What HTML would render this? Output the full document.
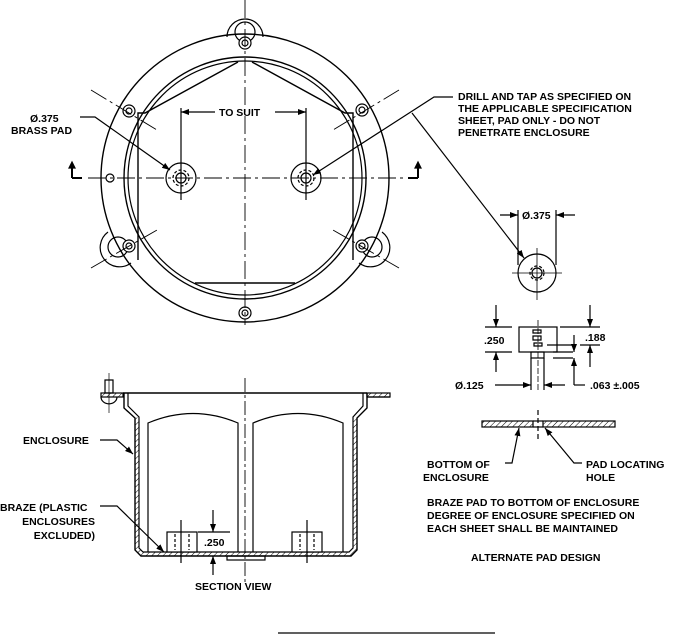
<!DOCTYPE html>
<html><head><meta charset="utf-8"><style>
html,body{margin:0;padding:0;background:#fff;}
svg{display:block;}
text{font-family:"Liberation Sans",Arial,sans-serif;font-weight:bold;font-size:10.5px;fill:#000;}
</style></head><body>
<svg width="677" height="636" viewBox="0 0 677 636" xmlns="http://www.w3.org/2000/svg">
<defs>
<pattern id="h" width="4" height="4" patternUnits="userSpaceOnUse" patternTransform="rotate(45)">
<line x1="0" y1="0" x2="0" y2="4" stroke="#000" stroke-width="1"/>
</pattern>
<marker id="a" markerWidth="8" markerHeight="6" refX="8" refY="3" orient="auto" markerUnits="userSpaceOnUse"><path d="M0,0 L8,3 L0,6z" fill="#000"/></marker>
</defs>
<g fill="none" stroke="#000" stroke-width="1.2">
<!-- top view -->
<path d="M227,37 A18,18 0 1 1 263,37" />
<path d="M108,232 A18,18 0 1 0 131,263" />
<path d="M382,232 A18,18 0 1 1 359,263" />
<circle cx="245" cy="178" r="144" stroke-width="1.4"/>
<circle cx="245" cy="178" r="121" stroke-width="1.4"/>
<circle cx="245" cy="178" r="117"/>
<circle cx="118" cy="247" r="10"/><circle cx="372" cy="247" r="10"/><circle cx="245" cy="32" r="10"/>
<path d="M238,62 L145,113 L138,113 L138,260 M252,62 L345,113 L353,113 L353,260 M195,283 L295,283" stroke-width="1.4"/>
<g fill="#fff">
<circle cx="245" cy="43" r="6"/><circle cx="245" cy="43" r="3"/>
<circle cx="129" cy="111" r="6"/><circle cx="129" cy="111" r="3"/>
<circle cx="362" cy="110" r="6"/><circle cx="362" cy="110" r="3"/>
<circle cx="129" cy="246" r="6"/><circle cx="129" cy="246" r="3"/>
<circle cx="362" cy="246" r="6"/><circle cx="362" cy="246" r="3"/>
<circle cx="245" cy="313" r="6"/><circle cx="245" cy="313" r="3"/>
<circle cx="110" cy="178" r="4"/>
</g>
<circle cx="181" cy="178" r="15"/><circle cx="181" cy="178" r="8" stroke-dasharray="3,2"/><circle cx="181" cy="178" r="5"/>
<circle cx="306" cy="178" r="15"/><circle cx="306" cy="178" r="8" stroke-dasharray="3,2"/><circle cx="306" cy="178" r="5"/>
<g stroke-width="0.9" stroke-dasharray="18,4,3,4">
<line x1="245" y1="0" x2="245" y2="325"/>
<line x1="88" y1="178" x2="405" y2="178"/>
<line x1="91" y1="90" x2="157" y2="130"/><line x1="399" y1="90" x2="333" y2="130"/>
<line x1="91" y1="268" x2="157" y2="230"/><line x1="399" y1="268" x2="333" y2="230"/>
</g>
<line x1="181" y1="108" x2="181" y2="200"/><line x1="306" y1="108" x2="306" y2="200"/>
<line x1="215" y1="112" x2="181" y2="112" marker-end="url(#a)"/>
<line x1="275" y1="112" x2="306" y2="112" marker-end="url(#a)"/>
<path d="M72,178 L82,178 M72,178 L72,165" stroke-width="2"/><path d="M72,162 l-3,6 h6z" fill="#000"/>
<path d="M418,178 L408,178 M418,178 L418,165" stroke-width="2"/><path d="M418,162 l-3,6 h6z" fill="#000"/>
<path d="M80,117 L95,117 L170,170" marker-end="url(#a)"/>
<path d="M453,97 L434,97 L313,175" marker-end="url(#a)"/>
<line x1="412" y1="113" x2="524" y2="258" marker-end="url(#a)"/>
<!-- detail circle -->
<circle cx="537" cy="273" r="19"/><circle cx="537" cy="273" r="7" stroke-dasharray="3,2"/><circle cx="537" cy="273" r="5"/>
<line x1="512" y1="273" x2="562" y2="273" stroke-width="0.8"/><line x1="537" y1="248" x2="537" y2="300" stroke-width="0.8"/>
<line x1="518" y1="210" x2="518" y2="265"/><line x1="556" y1="210" x2="556" y2="265"/>
<line x1="500" y1="215" x2="518" y2="215" marker-end="url(#a)"/><line x1="575" y1="215" x2="556" y2="215" marker-end="url(#a)"/>
<!-- side detail -->
<rect x="519" y="327" width="38" height="25"/><rect x="531" y="352" width="13" height="6"/>
<path d="M533,330h8v3h-8z M533,336h8v4h-8z M534,343h8v3h-8z"/>
<line x1="538" y1="320" x2="538" y2="390" stroke-width="0.8" stroke-dasharray="6,2"/>
<line x1="485" y1="327" x2="512" y2="327"/><line x1="485" y1="352" x2="512" y2="352"/>
<line x1="496" y1="305" x2="496" y2="327" marker-end="url(#a)"/><line x1="496" y1="372" x2="496" y2="352" marker-end="url(#a)"/>
<line x1="560" y1="327" x2="600" y2="327"/><line x1="590" y1="305" x2="590" y2="327" marker-end="url(#a)"/><line x1="590" y1="367" x2="590" y2="345" marker-end="url(#a)"/>
<line x1="580" y1="345" x2="600" y2="345"/>
<line x1="547" y1="345" x2="573" y2="345"/><line x1="553" y1="352" x2="573" y2="352"/><line x1="553" y1="358" x2="573" y2="358"/>
<line x1="574" y1="335" x2="574" y2="352" marker-end="url(#a)"/><line x1="574" y1="385" x2="574" y2="358" marker-end="url(#a)"/>
<line x1="574" y1="385" x2="585" y2="385"/>
<line x1="531" y1="358" x2="531" y2="390"/><line x1="544" y1="358" x2="544" y2="390"/>
<line x1="495" y1="385" x2="531" y2="385" marker-end="url(#a)"/><line x1="565" y1="385" x2="544" y2="385" marker-end="url(#a)"/>
<!-- plate -->
<rect x="482" y="421" width="51" height="6" fill="url(#h)"/><rect x="543" y="421" width="72" height="6" fill="url(#h)"/>
<line x1="533" y1="421" x2="543" y2="421"/><line x1="533" y1="427" x2="543" y2="427"/>
<line x1="538" y1="410" x2="538" y2="440" stroke-dasharray="5,3"/>
<path d="M505,463 L512,463 L519,428" marker-end="url(#a)"/>
<path d="M582,463 L574,463 L545,428" marker-end="url(#a)"/>
<!-- section view -->
<line x1="245" y1="378" x2="245" y2="585" stroke-width="0.9" stroke-dasharray="14,3,3,3"/>
<path d="M123,393 L367,393" stroke-width="1.4"/>
<path d="M124,393 L124,408 L135,418 L135,550 L141,556 L351,556 L357,550 L357,418 L367,408 L367,393" stroke-width="1.4"/>
<path d="M128,393 L128,406 L139,417 L139,548 L143,552 L349,552 L353,548 L353,417 L363,406 L363,393"/>
<path d="M135,418 L135,550 L141,556 L351,556 L357,550 L357,418 L353,417 L353,548 L349,552 L143,552 L139,548 L139,417z" fill="url(#h)" stroke="none"/>
<rect x="367" y="393" width="23" height="4" fill="url(#h)"/><line x1="367" y1="397" x2="390" y2="397"/>
<rect x="101" y="393" width="22" height="4" fill="url(#h)"/>
<path d="M105,380 h8 v13 h-8z M101,397 A7,6 0 0 0 117,397"/><line x1="109" y1="373" x2="109" y2="413" stroke-width="0.7"/>
<path d="M148,552 L148,423 Q193,404 238,423 L238,552"/>
<path d="M253,552 L253,423 Q298,404 343,423 L343,552"/>
<rect x="167" y="532" width="30" height="20" fill="#fff"/><line x1="175" y1="534" x2="175" y2="550" stroke-dasharray="3,2"/><line x1="189" y1="534" x2="189" y2="550" stroke-dasharray="3,2"/>
<line x1="181" y1="520" x2="181" y2="563"/>
<rect x="292" y="532" width="30" height="20" fill="#fff"/><line x1="300" y1="534" x2="300" y2="550" stroke-dasharray="3,2"/><line x1="314" y1="534" x2="314" y2="550" stroke-dasharray="3,2"/>
<line x1="307" y1="520" x2="307" y2="563"/>
<rect x="227" y="556" width="38" height="4"/>
<line x1="198" y1="532" x2="230" y2="532"/>
<line x1="213" y1="510" x2="213" y2="532" marker-end="url(#a)"/><line x1="213" y1="575" x2="213" y2="556" marker-end="url(#a)"/>
<path d="M100,440 L117,440 L133,454" marker-end="url(#a)"/>
<path d="M100,506 L117,506 L164,552" marker-end="url(#a)"/>
<line x1="278" y1="633" x2="495" y2="633"/>
</g>
<text x="30" y="122">Ø.375</text>
<text x="11" y="134">BRASS PAD</text>
<text x="219" y="116">TO SUIT</text>
<text x="458" y="100">DRILL AND TAP AS SPECIFIED ON</text>
<text x="458" y="112">THE APPLICABLE SPECIFICATION</text>
<text x="458" y="124">SHEET,  PAD ONLY - DO NOT</text>
<text x="458" y="136">PENETRATE ENCLOSURE</text>
<text x="522" y="219">Ø.375</text>
<text x="484" y="344">.250</text>
<text x="585" y="341">.188</text>
<text x="455" y="389">Ø.125</text>
<text x="590" y="389">.063 ±.005</text>
<text x="427" y="468">BOTTOM OF</text><text x="423" y="481">ENCLOSURE</text>
<text x="586" y="468">PAD LOCATING</text><text x="586" y="481">HOLE</text>
<text x="427" y="506">BRAZE PAD TO BOTTOM OF ENCLOSURE</text>
<text x="427" y="519">DEGREE OF ENCLOSURE SPECIFIED ON</text>
<text x="427" y="532">EACH SHEET SHALL BE MAINTAINED</text>
<text x="471" y="561">ALTERNATE PAD DESIGN</text>
<text x="23" y="444">ENCLOSURE</text>
<text x="0" y="511">BRAZE (PLASTIC</text>
<text x="95" y="525" text-anchor="end">ENCLOSURES</text>
<text x="95" y="539" text-anchor="end">EXCLUDED)</text>
<text x="204" y="546">.250</text>
<text x="195" y="590">SECTION VIEW</text>
</svg>
</body></html>
